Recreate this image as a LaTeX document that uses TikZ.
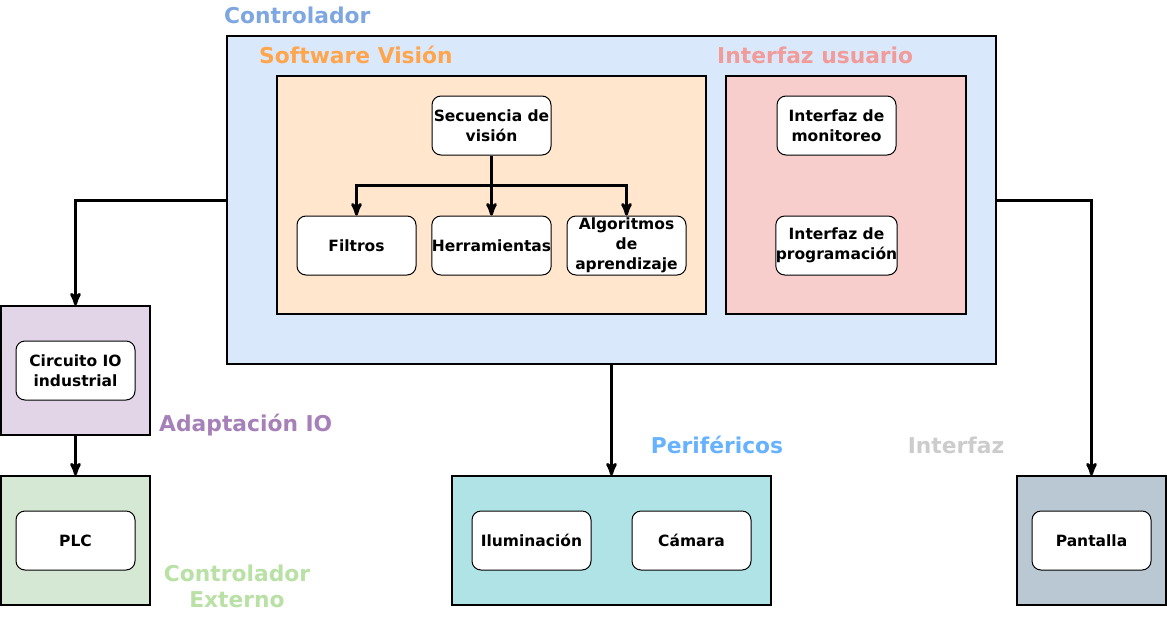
\documentclass[tikz,border=0pt]{standalone}
\usepackage{fontspec}
\setmainfont{DejaVu Sans}
\usetikzlibrary{arrows,positioning}
\definecolor{ctrlfill}{HTML}{DAE8FC}
\definecolor{ctrltext}{HTML}{7EA6E0}
\definecolor{swfill}{HTML}{FFE6CC}
\definecolor{swtext}{HTML}{FFA64D}
\definecolor{uifill}{HTML}{F8CECC}
\definecolor{uitext}{HTML}{F19C99}
\definecolor{iofill}{HTML}{E1D5E7}
\definecolor{iotext}{HTML}{A680B8}
\definecolor{extfill}{HTML}{D5E8D4}
\definecolor{exttext}{HTML}{B9E0A5}
\definecolor{perfill}{HTML}{B0E3E6}
\definecolor{pertext}{HTML}{66B2FF}
\definecolor{intfill}{HTML}{BAC8D3}
\definecolor{inttext}{HTML}{CCCCCC}
\tikzstyle{every picture}+=[>=stealth']
\tikzstyle{grupo}=[rectangle,draw=black,line width=1.3pt,inner sep=0pt]
\tikzstyle{bloque}=[rectangle,rounded corners=9pt,draw=black,fill=white,line width=1pt,
  minimum width=119pt,minimum height=59pt,inner sep=0pt,align=center,
  font=\fontsize{15.5}{20}\selectfont\bfseries]
\tikzstyle{titulo}=[font=\fontsize{21.8}{26}\selectfont\bfseries,inner sep=0pt,align=center]
\tikzstyle{flecha}=[->,line width=3pt]

\begin{document}
\begin{tikzpicture}[x=1pt,y=-1pt]
\useasboundingbox (0,0) rectangle (1167,616);
% contenedores
\node[grupo,fill=ctrlfill,minimum width=769pt,minimum height=328pt] (controlador) at (611.5,200) {};
\node[grupo,fill=swfill,minimum width=429pt,minimum height=238pt] (software) at (491.5,195) {};
\node[grupo,fill=uifill,minimum width=240pt,minimum height=238pt] (usuario) at (846,195) {};
\node[grupo,fill=iofill,minimum width=149pt,minimum height=129pt] (adaptacion) at (75.5,370.5) {};
\node[grupo,fill=extfill,minimum width=149pt,minimum height=129pt] (externo) at (75.5,540.5) {};
\node[grupo,fill=perfill,minimum width=319pt,minimum height=129pt] (perifericos) at (611.5,540.5) {};
\node[grupo,fill=intfill,minimum width=149pt,minimum height=129pt] (interfaz) at (1091.5,540.5) {};
% titulos
\node[titulo,text=ctrltext,anchor=west] (tctrl) at (224,15) {Controlador};
\node[titulo,text=swtext,anchor=west] (tsw) at (259,55) {Software Visión};
\node[titulo,text=uitext,anchor=west] (tui) at (717,55) {Interfaz usuario};
\node[titulo,text=iotext,anchor=west] (tio) at (159,425) {Adaptación IO};
\node[titulo,text=exttext] (text) at (237,586) {Controlador\\Externo};
\node[titulo,text=pertext] (tper) at (717,445) {Periféricos};
\node[titulo,text=inttext] (tint) at (956,445) {Interfaz};
% bloques
\node[bloque] (secuencia) at (491.5,125.5) {Secuencia de\\visión};
\node[bloque] (filtros) at (356.5,245.5) {Filtros};
\node[bloque] (herramientas) at (491.5,245.5) {Herramientas};
\node[bloque] (algoritmos) at (626.5,245.5) {Algoritmos\\de\\aprendizaje};
\node[bloque] (monitoreo) at (836.5,125.5) {Interfaz de\\monitoreo};
\node[bloque] (programacion) at (836.5,245.5) {Interfaz de\\programación};
\node[bloque] (circuito) at (75.5,370.5) {Circuito IO\\industrial};
\node[bloque] (plc) at (75.5,540.5) {PLC};
\node[bloque] (iluminacion) at (531.5,540.5) {Iluminación};
\node[bloque] (camara) at (691.5,540.5) {Cámara};
\node[bloque] (pantalla) at (1091.5,540.5) {Pantalla};
% conexiones
\coordinate (reparto) at (491.5,185);
\draw[flecha] (secuencia.south) -- (reparto) -| (filtros.north);
\draw[flecha] (reparto) -- (herramientas.north);
\draw[flecha] (reparto) -| (algoritmos.north);
\draw[flecha] (controlador.west) -| (adaptacion.north);
\draw[flecha] (adaptacion.south) -- (externo.north);
\draw[flecha] (controlador.south) -- (perifericos.north);
\draw[flecha] (controlador.east) -| (interfaz.north);
\end{tikzpicture}
\end{document}
